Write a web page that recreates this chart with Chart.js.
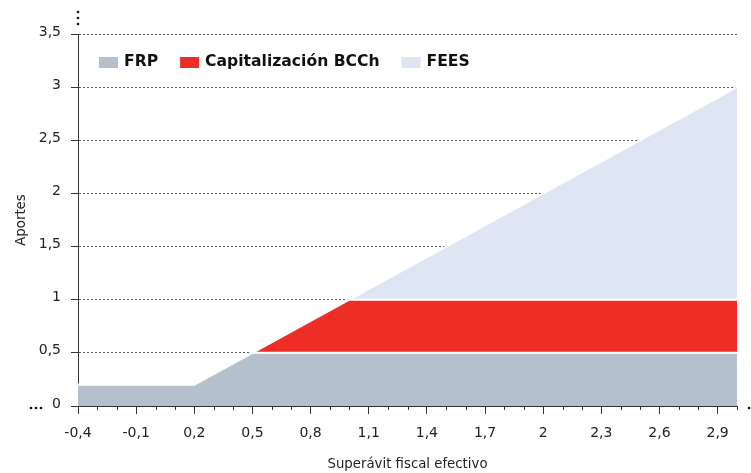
<!DOCTYPE html>
<html>
<head>
<meta charset="utf-8">
<script src="https://cdn.jsdelivr.net/npm/chart.js@4.4.0/dist/chart.umd.min.js"></script>
<style>
  html, body { margin: 0; padding: 0; background: #fff; }
  #wrap { width: 751px; height: 473px; position: relative; }
</style>
</head>
<body>
<div id="wrap"><canvas id="chart"></canvas></div>
<script>
// data
const xPoints = [-0.4, 0.2, 0.5, 1.0, 3.0];
const frpValues = [0.2, 0.2, 0.5, 0.5, 0.5];
const bcchValues = [0, 0, 0, 0.5, 0.5];
const feesValues = [0, 0, 0, 0, 2];
const seriesNames = ['FRP', 'Capitalización BCCh', 'FEES'];
const xTicks = [-0.4, -0.1, 0.2, 0.5, 0.8, 1.1, 1.4, 1.7, 2.0, 2.3, 2.6, 2.9];
const xMinorTicks = [-0.3, -0.2, 0.0, 0.1, 0.3, 0.4, 0.6, 0.7, 0.9, 1.0, 1.2, 1.3, 1.5, 1.6, 1.8, 1.9, 2.1, 2.2, 2.4, 2.5, 2.7, 2.8, 3.0];
const yTicks = [0, 0.5, 1, 1.5, 2, 2.5, 3, 3.5];

const colors = ['#b4c1cd', '#ee2e26', '#dee5f3'];
const font = 'DejaVu Sans';

function toComma(v) {
    return String(Number(v.toFixed(1))).replace('.', ',');
}

function makeSeries(values, i) {
    return {
        label: seriesNames[i],
        data: values.map((v, k) => ({ x: xPoints[k], y: v })),
        backgroundColor: colors[i],
        borderColor: '#ffffff',
        borderWidth: 2,
        pointRadius: 0,
        tension: 0,
        fill: i === 0 ? 'origin' : '-1',
    };
}

// minor ticks, axis break dots and the legend inside the plot
const extras = {
    id: 'extras',
    afterDraw(chart) {
        const { ctx, scales: { x, y } } = chart;
        const y0 = y.getPixelForValue(0);
        ctx.save();
        ctx.strokeStyle = '#333';
        ctx.lineWidth = 1;
        xMinorTicks.forEach(v => {
            const px = Math.round(x.getPixelForValue(v)) + 0.5;
            ctx.beginPath();
            ctx.moveTo(px, y0);
            ctx.lineTo(px, y0 + 4);
            ctx.stroke();
        });

        ctx.fillStyle = '#111';
        const dot = (cx, cy) => {
            ctx.beginPath();
            ctx.arc(cx, cy, 1.3, 0, Math.PI * 2);
            ctx.fill();
        };
        const yTop = y.getPixelForValue(3.5);
        [-22, -16, -10].forEach(d => dot(x.left, yTop + d));
        [31, 36, 41].forEach(cx => dot(cx, y0 + 2));
        [749, 754].forEach(cx => dot(cx, y0 + 2));

        // legend
        ctx.font = 'bold 15.6px "' + font + '"';
        ctx.textBaseline = 'middle';
        let lx = 99;
        const ly = 62;
        chart.data.datasets.forEach(ds => {
            ctx.fillStyle = ds.backgroundColor;
            ctx.fillRect(lx, ly - 5, 19, 11);
            ctx.fillStyle = '#111';
            ctx.fillText(ds.label, lx + 25, ly);
            lx += 25 + ctx.measureText(ds.label).width + 22;
        });
        ctx.restore();
    }
};

const ctx = document.getElementById('chart').getContext('2d');
new Chart(ctx, {
    type: 'line',
    data: {
        datasets: [makeSeries(frpValues, 0), makeSeries(bcchValues, 1), makeSeries(feesValues, 2)],
    },
    plugins: [extras],
    options: {
        responsive: true,
        maintainAspectRatio: false,
        animation: false,
        layout: { padding: { top: 34, right: 14, bottom: 0, left: 10 } },
        plugins: {
            legend: { display: false },
            tooltip: { enabled: false },
        },
        scales: {
            x: {
                type: 'linear',
                min: -0.4,
                max: 3.0,
                afterBuildTicks: scale => { scale.ticks = xTicks.map(v => ({ value: v })); },
                afterFit: scale => { scale.height = 67; },
                grid: { drawOnChartArea: false, tickLength: 8, tickColor: '#333' },
                border: { color: '#333', width: 1 },
                ticks: {
                    autoSkip: false,
                    maxRotation: 0,
                    padding: 11,
                    color: '#222',
                    font: { family: font, size: 14 },
                    callback: v => toComma(v),
                },
                title: {
                    display: true,
                    text: 'Superávit fiscal efectivo',
                    color: '#222',
                    font: { family: font, size: 13.3 },
                    padding: { top: 4, bottom: 0 },
                },
            },
            y: {
                stacked: true,
                min: 0,
                max: 3.5,
                afterBuildTicks: scale => { scale.ticks = yTicks.map(v => ({ value: v })); },
                afterFit: scale => { scale.width = 68; },
                grid: { color: '#555', tickLength: 7, tickColor: '#333' },
                border: { color: '#333', width: 1, dash: [2, 2] },
                ticks: {
                    padding: 10,
                    labelOffset: -2,
                    color: '#222',
                    font: { family: font, size: 14 },
                    callback: v => toComma(v),
                },
                title: {
                    display: true,
                    text: 'Aportes',
                    color: '#222',
                    font: { family: font, size: 13.3 },
                },
            },
        },
    },
});
</script>
</body>
</html>
